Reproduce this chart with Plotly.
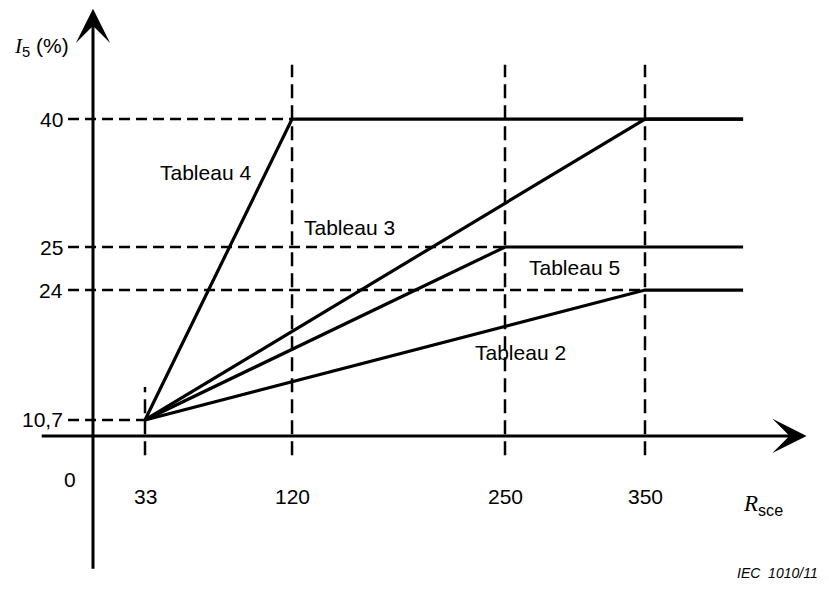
import numpy as np
import plotly.graph_objects as go

# ---------------- data ----------------
X_TICKS = [33, 120, 250, 350]
X_TICK_LABELS = ["33", "120", "250", "350"]
Y_LEVELS = [10.7, 24, 25, 40]
Y_TICK_LABELS = ["10,7", "24", "25", "40"]
Y_LEVEL_X = [33, 350, 250, 120]          # where each level's dashed guide stops
ORIGIN_X, ORIGIN_Y = 33, 10.7
X_END = 420

SERIES_NAMES = ["Tableau 2", "Tableau 3", "Tableau 4", "Tableau 5"]
SERIES_KNEE_X = [350, 250, 120, 350]
SERIES_KNEE_Y = [24, 25, 40, 40]

# schematic (not to scale) axes of the original figure
X_SCALE_IN = [0, 33, 120, 250, 350, 420]
X_SCALE_OUT = [0, 32.5, 124.4, 257.5, 345, 406.3]
Y_SCALE_IN = [0, 10.7, 24, 25, 40]
Y_SCALE_OUT = [0, 1.0, 9.12, 11.81, 19.81]


def xs_(v):
    return float(np.interp(v, X_SCALE_IN, X_SCALE_OUT))


def ys(v):
    return float(np.interp(v, Y_SCALE_IN, Y_SCALE_OUT))


FONT = "Liberation Sans, Arial, sans-serif"
SERIF = "Liberation Serif, Times New Roman, serif"
BLACK = "#000000"
FS = 21

fig = go.Figure()

# dashed guides (horizontal)
for lvl, xe in zip(Y_LEVELS, Y_LEVEL_X):
    fig.add_trace(go.Scatter(x=[-15.6, xs_(xe)], y=[ys(lvl), ys(lvl)], mode="lines",
                             line=dict(color=BLACK, width=2.5, dash="11px,6px"),
                             hoverinfo="skip", showlegend=False))
# dashed guides (vertical)
for xv in X_TICKS:
    top = 3.06 if xv == ORIGIN_X else 23.2
    fig.add_trace(go.Scatter(x=[xs_(xv), xs_(xv)], y=[-1.2, top], mode="lines",
                             line=dict(color=BLACK, width=2.5, dash="14px,7px"),
                             hoverinfo="skip", showlegend=False))

# series
for name, kx, ky in zip(SERIES_NAMES, SERIES_KNEE_X, SERIES_KNEE_Y):
    fig.add_trace(go.Scatter(x=[xs_(ORIGIN_X), xs_(kx), xs_(X_END)],
                             y=[ys(ORIGIN_Y), ys(ky), ys(ky)],
                             mode="lines", name=name,
                             line=dict(color=BLACK, width=3.2),
                             showlegend=False))

ann = []
# axes with arrows
ann.append(dict(x=446, y=0, ax=-33, ay=0, xref="x", yref="y", axref="x", ayref="y",
                text="", showarrow=True, arrowhead=3, arrowsize=1.9, arrowwidth=3,
                arrowcolor=BLACK, standoff=0))
ann.append(dict(x=0, y=26.7, ax=0, ay=-8.4, xref="x", yref="y", axref="x", ayref="y",
                text="", showarrow=True, arrowhead=3, arrowsize=1.9, arrowwidth=3,
                arrowcolor=BLACK, standoff=0))

# tick labels
for lvl, lab in zip(Y_LEVELS, Y_TICK_LABELS):
    ann.append(dict(x=-17.5, y=ys(lvl), xref="x", yref="y", text=lab, showarrow=False,
                    xanchor="right", yanchor="middle", font=dict(family=FONT, size=FS, color=BLACK)))
for xv, lab in zip(X_TICKS, X_TICK_LABELS):
    ann.append(dict(x=xs_(xv), y=-3.8, xref="x", yref="y", text=lab, showarrow=False,
                    xanchor="center", yanchor="middle", font=dict(family=FONT, size=FS, color=BLACK)))
ann.append(dict(x=-14.4, y=-2.75, xref="x", yref="y", text="0", showarrow=False,
                xanchor="center", yanchor="middle", font=dict(family=FONT, size=FS, color=BLACK)))

# axis titles
ann.append(dict(x=-31.9, y=24.3, xref="x", yref="y",
                text=f"<span style='font-family:{SERIF}'><i>I</i></span><sub>5</sub> (%)",
                showarrow=False, xanchor="center", yanchor="middle",
                font=dict(family=FONT, size=FS, color=BLACK)))
ann.append(dict(x=419, y=-4.3, xref="x", yref="y",
                text=f"<span style='font-family:{SERIF}'><i>R</i></span><sub>sce</sub>",
                showarrow=False, xanchor="center", yanchor="middle",
                font=dict(family=FONT, size=23, color=BLACK)))

# series labels
LABEL_X = [267, 160.6, 70, 301]
LABEL_Y = [5.2, 13.0, 16.45, 10.5]
for name, lx, ly in zip(SERIES_NAMES, LABEL_X, LABEL_Y):
    ann.append(dict(x=lx, y=ly, xref="x", yref="y", text=name, showarrow=False,
                    xanchor="center", yanchor="middle", font=dict(family=FONT, size=FS, color=BLACK)))

# figure id
ann.append(dict(x=0.9795, y=0.063, xref="paper", yref="paper", text="<i>IEC  1010/11</i>",
                showarrow=False, xanchor="right", yanchor="middle",
                font=dict(family=FONT, size=14, color=BLACK)))

fig.update_layout(
    width=829, height=603,
    margin=dict(l=0, r=0, t=0, b=0),
    paper_bgcolor="white", plot_bgcolor="white",
    xaxis=dict(range=[-53.125, 465], visible=False, fixedrange=True),
    yaxis=dict(range=[-10.94, 26.75], visible=False, fixedrange=True),
    annotations=ann,
    showlegend=False,
)

fig.write_html("out.html")
